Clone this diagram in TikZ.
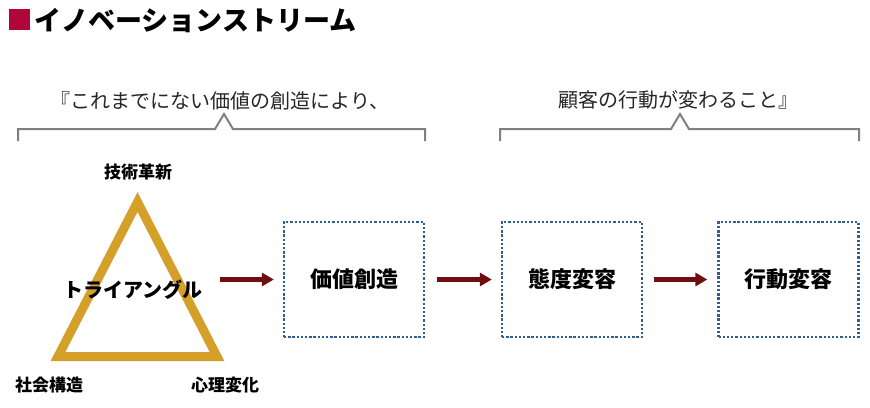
\documentclass[tikz,border=0pt]{standalone}
\usepackage{fontspec}
\setmainfont{Noto Sans CJK JP}
\usetikzlibrary{arrows.meta}
\definecolor{titlered}{HTML}{B0063A}
\definecolor{gold}{HTML}{D4A02A}
\definecolor{arrred}{HTML}{6E0E10}
\definecolor{dotblue}{HTML}{2F5F8F}
\definecolor{brgray}{HTML}{808080}
\definecolor{txtgray}{HTML}{262626}
\tikzset{
  boxstyle/.style={draw=dotblue, line width=2.3pt, dash pattern=on 2.3pt off 1.9pt,
    minimum width=140pt, minimum height=115pt, inner sep=0pt,
    font=\fontsize{22pt}{26pt}\selectfont\bfseries, text=black},
  arr/.style={draw=arrred, line width=4.5pt, -{Triangle[length=12pt,width=13pt]}},
  bracket/.style={draw=brgray, line width=2pt, line join=miter},
  brtext/.style={font=\fontsize{20pt}{24pt}\selectfont, text=txtgray, inner sep=0pt},
  vlabel/.style={font=\fontsize{17pt}{20pt}\selectfont\bfseries, text=black, inner sep=0pt},
}
\begin{document}
\begin{tikzpicture}[x=1pt,y=-1pt]
\useasboundingbox (0,0) rectangle (870,407);
% title
\node[fill=titlered, minimum size=21pt, inner sep=0pt] (sq) at (19,19) {};
\node[anchor=west, inner sep=0pt, font=\fontsize{27pt}{30pt}\selectfont\bfseries] (title) at (34,20) {イノベーションストリーム};
% bracket texts
\node[brtext] (t1) at (220,101) {『これまでにない価値の創造により、};
\node[brtext] (t2) at (678,100) {顧客の行動が変わること』};
% brackets
\draw[bracket] (18,141) -- (18,129) -- (215,129) -- (224,114) -- (233,129) -- (425,129) -- (425,141);
\draw[bracket] (500,141) -- (500,129) -- (671,129) -- (680,114) -- (689,129) -- (859,129) -- (859,141);
% triangle
\draw[draw=gold, line width=9pt, line join=miter] (137.5,202) -- (217,356.5) -- (58,356.5) -- cycle;
\node[inner sep=0pt, font=\fontsize{20pt}{24pt}\selectfont\bfseries] (tri) at (133,290) {トライアングル};
\node[vlabel] (l1) at (138,172) {技術革新};
\node[vlabel] (l2) at (49,385) {社会構造};
\node[vlabel] (l3) at (225,385) {心理変化};
% boxes
\node[boxstyle] (b1) at (354,279.5) {価値創造};
\node[boxstyle] (b2) at (572,279.5) {態度変容};
\node[boxstyle] (b3) at (788.5,279.5) {行動変容};
% arrows
\coordinate (s1) at (220,279.5);
\draw[arr, shorten >=9pt] (s1) -- (b1.west);
\draw[arr, shorten <=12pt, shorten >=9pt] (b1.east) -- (b2.west);
\draw[arr, shorten <=11pt, shorten >=10pt] (b2.east) -- (b3.west);
\end{tikzpicture}
\end{document}
